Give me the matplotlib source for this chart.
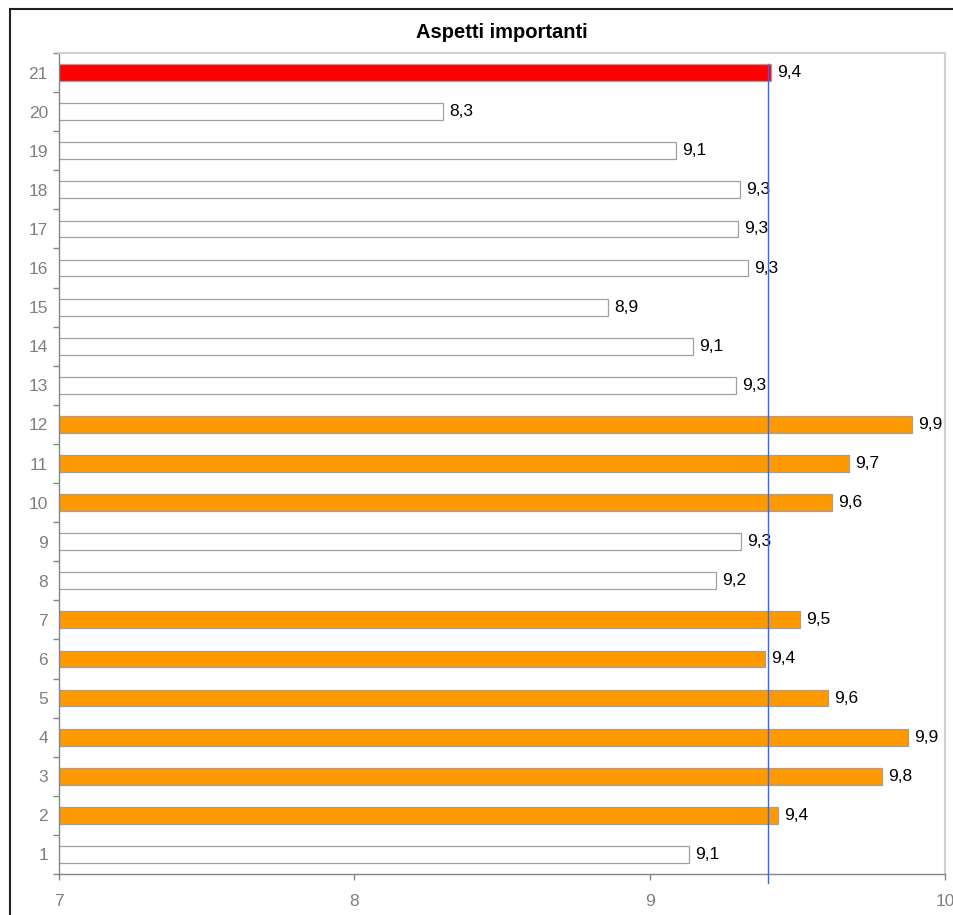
import matplotlib
matplotlib.use('Agg')
import matplotlib.pyplot as plt
from matplotlib.patches import Rectangle
from matplotlib.ticker import FixedLocator

plt.rcParams['font.family'] = ['Liberation Sans', 'DejaVu Sans']

# dati
categorie = list(range(1, 22))
valori = [9.134, 9.434, 9.786, 9.875, 9.604, 9.391, 9.509, 9.224, 9.308, 9.617,
          9.674, 9.889, 9.292, 9.146, 8.858, 9.333, 9.298, 9.307, 9.089, 8.299, 9.41]
evidenziati = [2, 3, 4, 5, 6, 7, 10, 11, 12]
ultimo = 21
media = 9.4
titolo = 'Aspetti importanti'

colori = []
for c in categorie:
    if c == ultimo:
        colori.append('#FF0000')
    elif c in evidenziati:
        colori.append('#FF9900')
    else:
        colori.append('white')

fig = plt.figure(figsize=(9.54, 9.15), dpi=100)
ax = fig.add_axes([59 / 954, 41 / 915, 886 / 954, 821 / 915])

ax.barh(categorie, valori, height=0.43, color=colori, edgecolor='#A0A0A0', linewidth=0.9)

for c, v in zip(categorie, valori):
    ax.annotate(('%.1f' % v).replace('.', ','), (v, c), xytext=(4.5, 0),
                textcoords='offset points', va='center', ha='left', fontsize=12.5)

# linea della media
ax.plot([media, media], [ultimo + 0.21, 0.27], color='#3366FF', lw=1, clip_on=False, zorder=5)

ax.set_xlim(7, 10)
ax.set_ylim(0.5, 21.5)
ax.set_xticks([7, 8, 9, 10])
ax.set_yticks(categorie)
ax.yaxis.set_minor_locator(FixedLocator([c - 0.5 for c in categorie] + [21.5]))
ax.tick_params(axis='y', which='major', length=0, pad=8, labelsize=12.5, labelcolor='#7F7F7F')
ax.tick_params(axis='y', which='minor', length=4.5, color='#868686', width=1)
ax.tick_params(axis='x', length=4.5, pad=10, color='#868686', width=1, labelsize=12.5, labelcolor='#7F7F7F')

for s in ['left', 'bottom']:
    ax.spines[s].set_color('#868686')
    ax.spines[s].set_linewidth(1)
for s in ['top', 'right']:
    ax.spines[s].set_color('#D0D0D0')
    ax.spines[s].set_linewidth(1.5)

ax.set_title(titolo, fontsize=14.5, fontweight='bold', pad=11)

# cornice esterna
fig.add_artist(Rectangle((10 / 954, -0.1), 1.2, 1.1 - 9 / 915, transform=fig.transFigure,
                         fill=False, edgecolor='#202020', linewidth=1.5))

fig.savefig('out.png', dpi=100)
